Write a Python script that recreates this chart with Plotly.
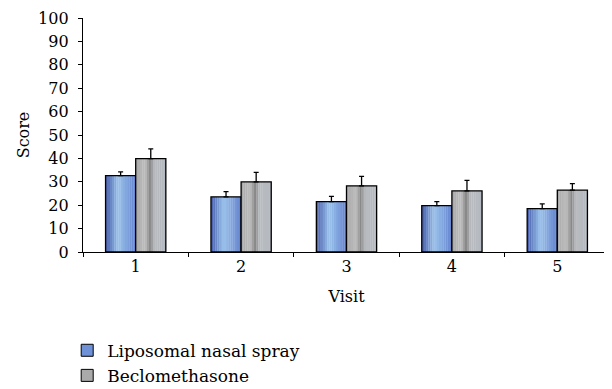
import plotly.graph_objects as go

visits = [1, 2, 3, 4, 5]
tick_labels = ["1", "2", "3", "4", "5"]
liposomal = [32.6, 23.6, 21.5, 19.8, 18.5]
liposomal_err = [1.6, 2.2, 2.3, 1.7, 2.1]
beclo = [39.9, 30.0, 28.3, 26.1, 26.4]
beclo_err = [4.2, 4.0, 4.0, 4.5, 2.8]

W = 0.286
N = 14

def lerp(c1, c2, t):
    return tuple(round(a + (b - a) * t) for a, b in zip(c1, c2))

def grad(stops, t):
    for (t0, c0), (t1, c1) in zip(stops, stops[1:]):
        if t0 <= t <= t1:
            return lerp(c0, c1, (t - t0) / (t1 - t0))
    return stops[-1][1]

blue_stops = [(0, (70, 92, 170)), (0.42, (155, 195, 235)), (1, (100, 130, 205))]
gray_stops = [(0, (168, 168, 168)), (0.3, (190, 190, 190)), (0.47, (135, 135, 135)),
              (0.62, (185, 188, 192)), (1, (180, 184, 192))]

fig = go.Figure()

def add_series(name, vals, errs, offset, stops, legend_color):
    for i in range(N):
        c = grad(stops, (i + 0.5) / N)
        fig.add_trace(go.Bar(
            x=visits, y=vals, width=W / N + 0.002, offset=offset + i * W / N,
            marker=dict(color="rgb(%d,%d,%d)" % c, line=dict(width=0)),
            showlegend=False, hoverinfo="skip"))
    fig.add_trace(go.Bar(
        x=visits, y=vals, width=W, offset=offset,
        marker=dict(color="rgba(0,0,0,0)", line=dict(color="black", width=1.3)),
        error_y=dict(type="data", array=errs, arrayminus=[0] * len(errs),
                     symmetric=False, color="black", thickness=1.3, width=2.5),
        showlegend=False, name=name))
    fig.add_trace(go.Bar(
        x=[None], y=[None], name=name,
        marker=dict(color=legend_color, line=dict(color="black", width=1))))

add_series("Liposomal nasal spray", liposomal, liposomal_err, -W, blue_stops, "rgb(110,145,215)")
add_series("Beclomethasone", beclo, beclo_err, 0, gray_stops, "rgb(170,170,170)")

font = "DejaVu Serif"
fs = 16
fig.update_layout(
    barmode="overlay",
    width=612, height=389,
    margin=dict(l=75, r=10, t=10, b=145, autoexpand=False),
    plot_bgcolor="white", paper_bgcolor="white",
    font=dict(family=font, size=fs, color="black"),
    showlegend=True,
    legend=dict(x=-0.03, y=-0.345, xanchor="left", yanchor="top",
                font=dict(family=font, size=17), itemwidth=30,
                bgcolor="rgba(0,0,0,0)", tracegroupgap=0),
    xaxis=dict(range=[0.5, 5.5], tickvals=visits, ticktext=tick_labels,
               ticks="", showline=True, linecolor="black", linewidth=1.3,
               showgrid=False, zeroline=False, automargin=False,
               tickfont=dict(family=font, size=fs),
               minor=dict(ticks="outside", tick0=0.5, dtick=1, ticklen=4,
                          tickcolor="black", showgrid=False),
               title=dict(text="Visit", font=dict(family=font, size=fs), standoff=15)),
    yaxis=dict(range=[0, 100], dtick=10, ticks="outside", ticklen=4,
               tickcolor="black", showline=True, linecolor="black", linewidth=1.3,
               showgrid=False, zeroline=False, automargin=False,
               ticklabelstandoff=6,
               tickfont=dict(family=font, size=fs),
               title=dict(text="Score", font=dict(family=font, size=fs), standoff=4)),
)

fig.write_html("out.html")
